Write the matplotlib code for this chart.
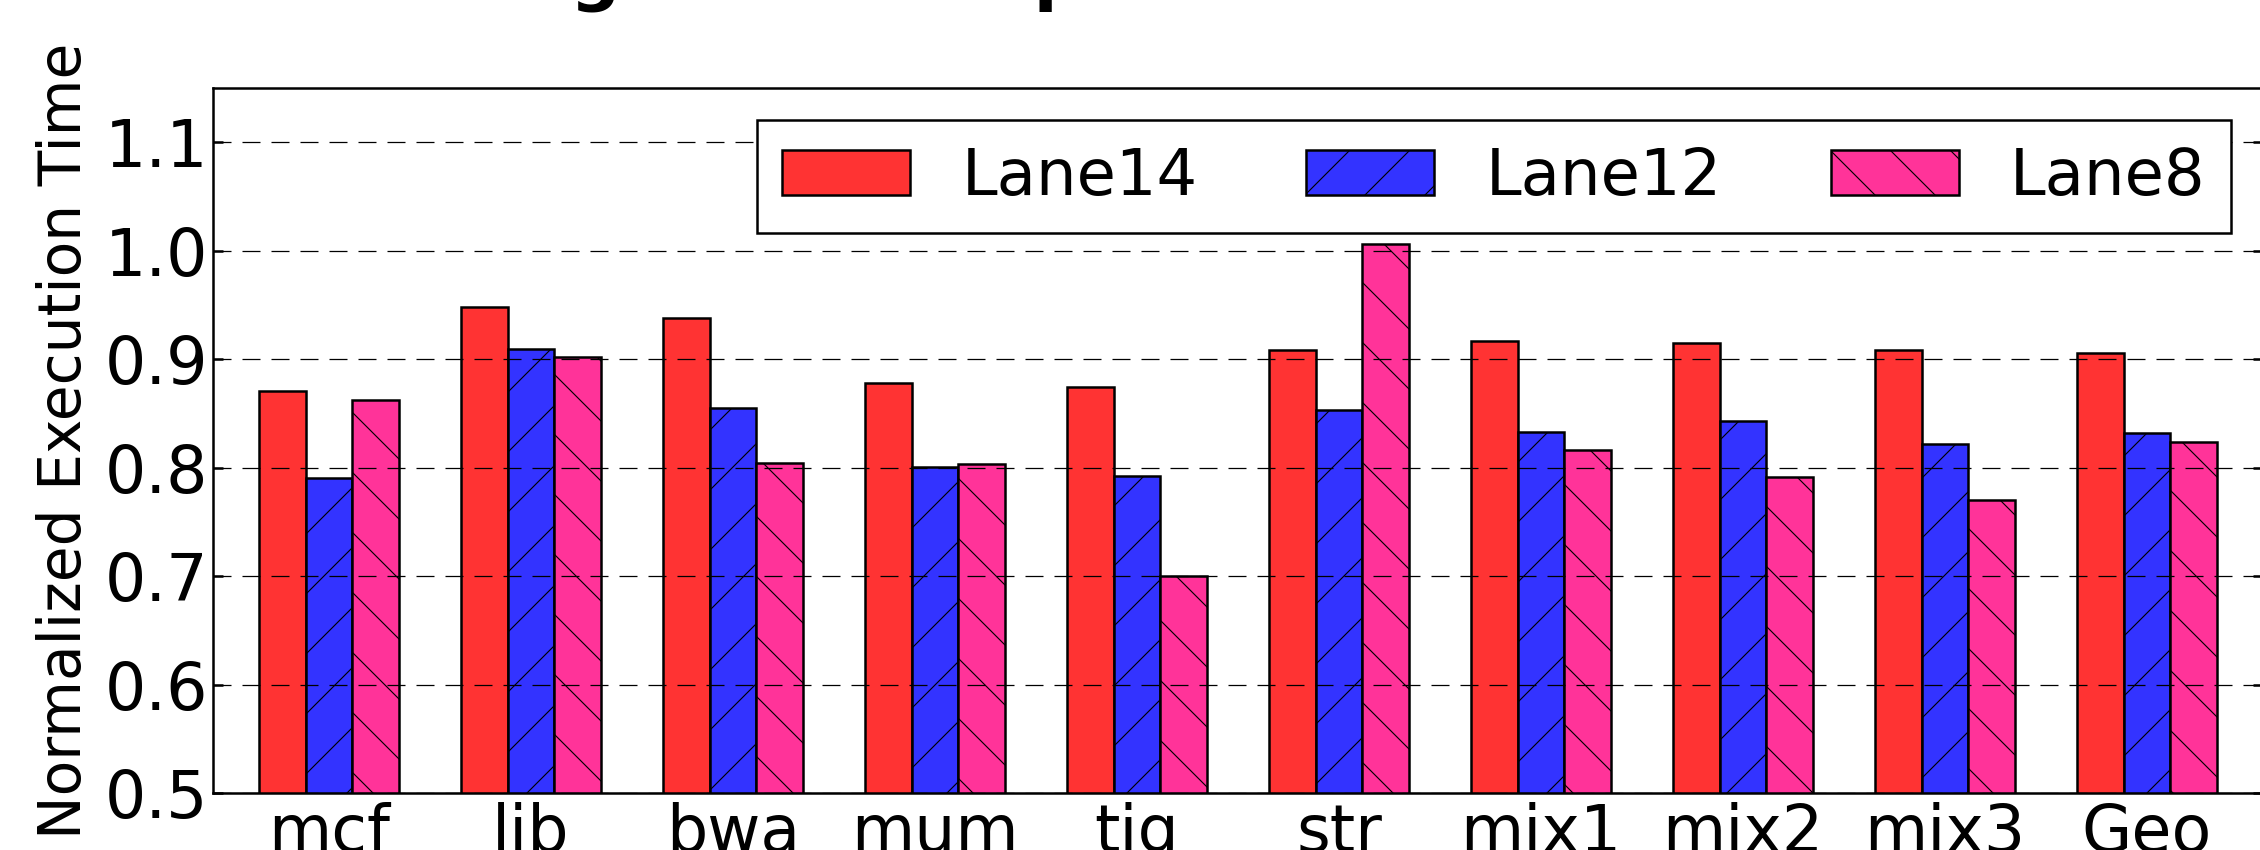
import numpy as np
import matplotlib
matplotlib.use("Agg")
import matplotlib.pyplot as plt

# data
benchmarks = ['mcf', 'lib', 'bwa', 'mum', 'tig', 'str', 'mix1', 'mix2', 'mix3', 'Geo']
lane14 = [0.871, 0.948, 0.938, 0.878, 0.874, 0.908, 0.917, 0.915, 0.908, 0.906]
lane12 = [0.790, 0.909, 0.855, 0.801, 0.792, 0.853, 0.833, 0.843, 0.822, 0.832]
lane8 = [0.862, 0.902, 0.804, 0.803, 0.700, 1.006, 0.816, 0.791, 0.770, 0.824]
yticks = [0.5, 0.6, 0.7, 0.8, 0.9, 1.0, 1.1]

plt.rcParams['hatch.linewidth'] = 0.45
plt.rcParams['axes.linewidth'] = 1.0

DPI = 180
fig = plt.figure(figsize=(2260 / DPI, 850 / DPI), dpi=DPI)
ax = fig.add_axes([213 / 2260, 57 / 850, 2050 / 2260, 705 / 850])

ind = np.arange(len(benchmarks))
width = 0.23

ax.bar(ind, lane14, width, align='edge', color='#ff3333', edgecolor='black',
       linewidth=1.0, label='Lane14')
ax.bar(ind + width, lane12, width, align='edge', color='#3333ff', edgecolor='black',
       linewidth=1.0, hatch='/', label='Lane12')
ax.bar(ind + 2 * width, lane8, width, align='edge', color='#ff3399', edgecolor='black',
       linewidth=1.0, hatch='\\', label='Lane8')

ax.set_xlim(-width, len(benchmarks) - 1 + 4 * width)
ax.set_ylim(0.5, 1.15)
ax.set_yticks(yticks)
ax.set_yticklabels(['%.1f' % v for v in yticks])
ax.set_xticks(ind + 1.5 * width)
ax.set_xticklabels(benchmarks)

ax.tick_params(axis='y', direction='in', length=4, width=1, labelsize=26,
               pad=2, right=True)
ax.tick_params(axis='x', length=0, labelsize=26, pad=3.5)

ax.yaxis.grid(True, linestyle=(0, (14.4, 8.8)), color='black', linewidth=0.5)
ax.set_axisbelow(False)

ax.set_ylabel('Normalized Execution Time', fontsize=23.3)
ax.yaxis.set_label_coords(-0.0585, 0.5)

leg = ax.legend(loc='upper right', ncol=3, fontsize=25.6, fancybox=False,
                framealpha=1, borderaxespad=0.5, columnspacing=1.7)
leg.get_frame().set_edgecolor('black')
leg.get_frame().set_linewidth(1.0)

# title sits mostly above the visible canvas
fig.text(293 / 2260, 1 + 3 / 850, 'Running Time Comparison', fontsize=28,
         fontweight='bold', ha='left', va='baseline')

fig.savefig('out.png', dpi=DPI, facecolor='white')
